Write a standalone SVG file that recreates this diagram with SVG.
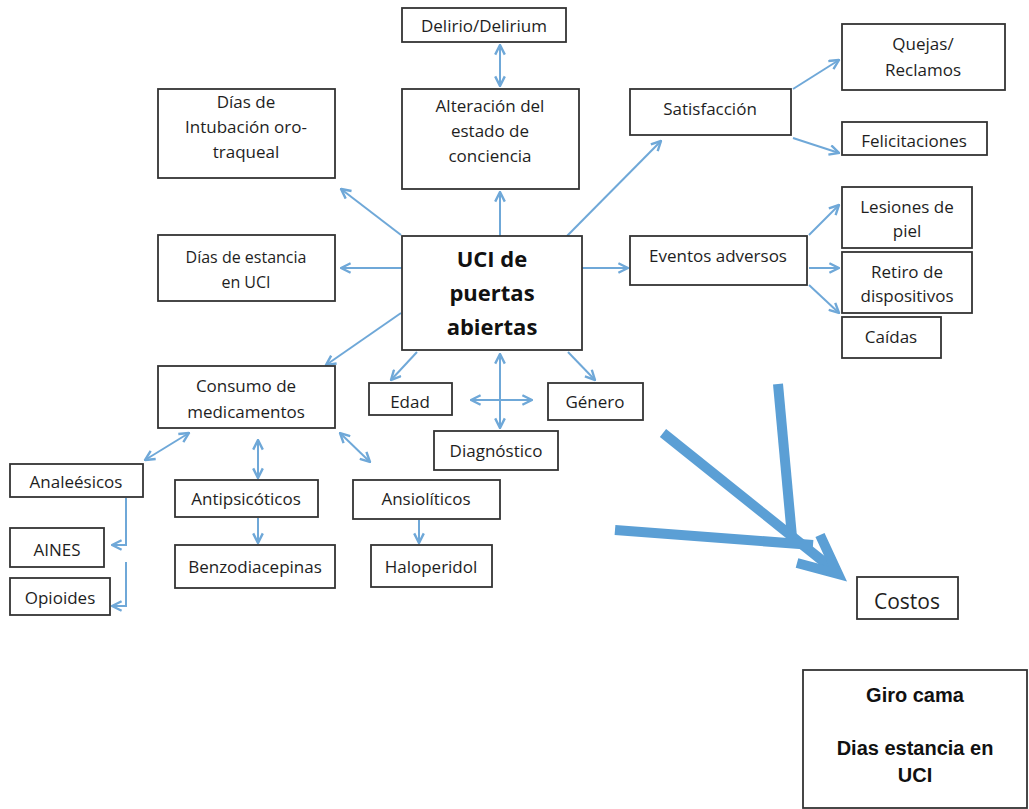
<svg xmlns="http://www.w3.org/2000/svg" width="1029" height="809" viewBox="0 0 1029 809">
<defs>
<style>
.box{fill:#fff;stroke:#333;stroke-width:1.8}
.t{font-family:"Open Sans","Liberation Sans",sans-serif;font-size:17px;fill:#1e1e1e;text-anchor:middle}
.tb{font-family:"Open Sans","Liberation Sans",sans-serif;font-size:22px;font-weight:bold;fill:#111;text-anchor:middle}
.ta{font-family:"Liberation Sans",Arial,sans-serif;font-size:20px;font-weight:bold;fill:#111;text-anchor:middle}
.c{fill:none;stroke:#6fa8d8;stroke-width:2}
.big{fill:none;stroke:#5b9fd5;stroke-width:10;stroke-linecap:butt}
</style>
<marker id="ah" viewBox="0 0 10 10" refX="9" refY="5" markerWidth="12" markerHeight="12" markerUnits="userSpaceOnUse" orient="auto-start-reverse">
<path d="M1,1 L9,5 L1,9" fill="none" stroke="#6fa8d8" stroke-width="2"/>
</marker>
</defs>
<rect width="1029" height="809" fill="#fff"/>

<g id="connectors">
<line class="c" x1="500" y1="45" x2="500" y2="86" marker-start="url(#ah)" marker-end="url(#ah)"/>
<line class="c" x1="500" y1="236" x2="500" y2="192" marker-end="url(#ah)"/>
<line class="c" x1="401" y1="235" x2="341" y2="189" marker-end="url(#ah)"/>
<line class="c" x1="402" y1="268" x2="341" y2="268" marker-end="url(#ah)"/>
<line class="c" x1="401" y1="313" x2="326" y2="365" marker-end="url(#ah)"/>
<line class="c" x1="567" y1="236" x2="661" y2="141" marker-end="url(#ah)"/>
<line class="c" x1="582" y1="268" x2="628" y2="268" marker-end="url(#ah)"/>
<line class="c" x1="793" y1="89" x2="839" y2="60" marker-end="url(#ah)"/>
<line class="c" x1="793" y1="138" x2="839" y2="153" marker-end="url(#ah)"/>
<line class="c" x1="809" y1="235" x2="839" y2="205" marker-end="url(#ah)"/>
<line class="c" x1="809" y1="268" x2="839" y2="268" marker-end="url(#ah)"/>
<line class="c" x1="809" y1="285" x2="839" y2="313" marker-end="url(#ah)"/>
<line class="c" x1="417" y1="352" x2="391" y2="380" marker-end="url(#ah)"/>
<line class="c" x1="568" y1="352" x2="595" y2="380" marker-end="url(#ah)"/>
<line class="c" x1="500" y1="354" x2="500" y2="428" marker-start="url(#ah)" marker-end="url(#ah)"/>
<line class="c" x1="471" y1="400" x2="532" y2="400" marker-start="url(#ah)" marker-end="url(#ah)"/>
<line class="c" x1="189" y1="433" x2="145" y2="460" marker-start="url(#ah)" marker-end="url(#ah)"/>
<line class="c" x1="258" y1="440" x2="258" y2="478" marker-start="url(#ah)" marker-end="url(#ah)"/>
<line class="c" x1="340" y1="433" x2="370" y2="462" marker-start="url(#ah)" marker-end="url(#ah)"/>
<line class="c" x1="258" y1="518" x2="258" y2="543" marker-end="url(#ah)"/>
<line class="c" x1="419" y1="520" x2="419" y2="543" marker-end="url(#ah)"/>
<path class="c" d="M126,498 V545 H112" marker-end="url(#ah)"/>
<path class="c" d="M126,562 V606 H112" marker-end="url(#ah)"/>
<g id="big-arrows">
<line class="big" x1="778" y1="384" x2="792" y2="537"/>
<line class="big" x1="663" y1="433" x2="834" y2="570"/>
<line class="big" x1="615" y1="530" x2="813" y2="545"/>
<polyline class="big" points="820,535 838,574 797,563" stroke-linecap="round" stroke-linejoin="miter"/>
</g>
</g>

<g id="n-delirio"><rect class="box" x="402" y="8" width="164" height="34"/><text class="t" x="484" y="32">Delirio/Delirium</text></g>
<g id="n-alteracion"><rect class="box" x="402" y="89" width="177" height="100"/><text class="t" x="490" y="112">Alteración del</text><text class="t" x="490" y="137">estado de</text><text class="t" x="490" y="162">conciencia</text></g>
<g id="n-intubacion"><rect class="box" x="158" y="89" width="177" height="89"/><text class="t" x="246" y="108">Días de</text><text class="t" x="246" y="133">Intubación oro-</text><text class="t" x="246" y="158">traqueal</text></g>
<g id="n-estancia"><rect class="box" x="158" y="235" width="177" height="66"/><text class="t" x="246" y="263" style="font-size:16px">Días de estancia</text><text class="t" x="246" y="288" style="font-size:16px">en UCI</text></g>
<g id="n-uci"><rect class="box" x="402" y="236" width="180" height="114"/><text class="tb" x="492" y="267">UCI de</text><text class="tb" x="492" y="301">puertas</text><text class="tb" x="492" y="335">abiertas</text></g>
<g id="n-consumo"><rect class="box" x="158" y="366" width="177" height="62"/><text class="t" x="246" y="392">Consumo de</text><text class="t" x="246" y="418">medicamentos</text></g>
<g id="n-edad"><rect class="box" x="369" y="383" width="83" height="32"/><text class="t" x="410" y="408">Edad</text></g>
<g id="n-genero"><rect class="box" x="548" y="383" width="95" height="37"/><text class="t" x="595" y="408">Género</text></g>
<g id="n-diagnostico"><rect class="box" x="434" y="431" width="124" height="39"/><text class="t" x="496" y="457">Diagnóstico</text></g>
<g id="n-satisfaccion"><rect class="box" x="630" y="89" width="161" height="46"/><text class="t" x="710" y="115">Satisfacción</text></g>
<g id="n-quejas"><rect class="box" x="842" y="24" width="163" height="66"/><text class="t" x="923" y="50">Quejas/</text><text class="t" x="923" y="76">Reclamos</text></g>
<g id="n-felicitaciones"><rect class="box" x="842" y="122" width="145" height="33"/><text class="t" x="914" y="147">Felicitaciones</text></g>
<g id="n-eventos"><rect class="box" x="630" y="236" width="177" height="49"/><text class="t" x="718" y="262">Eventos adversos</text></g>
<g id="n-lesiones"><rect class="box" x="842" y="187" width="130" height="61"/><text class="t" x="907" y="213">Lesiones de</text><text class="t" x="907" y="237">piel</text></g>
<g id="n-retiro"><rect class="box" x="842" y="252" width="130" height="61"/><text class="t" x="907" y="278">Retiro de</text><text class="t" x="907" y="302">dispositivos</text></g>
<g id="n-caidas"><rect class="box" x="842" y="317" width="99" height="41"/><text class="t" x="891" y="343">Caídas</text></g>
<g id="n-analgesicos"><rect class="box" x="10" y="464" width="133" height="33"/><text class="t" x="76" y="488">Analeésicos</text></g>
<g id="n-aines"><rect class="box" x="10" y="528" width="94" height="39"/><text class="t" x="57" y="556">AINES</text></g>
<g id="n-opioides"><rect class="box" x="10" y="578" width="100" height="37"/><text class="t" x="60" y="604">Opioides</text></g>
<g id="n-antipsicoticos"><rect class="box" x="175" y="480" width="143" height="37"/><text class="t" x="246" y="505">Antipsicóticos</text></g>
<g id="n-benzo"><rect class="box" x="175" y="545" width="160" height="43"/><text class="t" x="255" y="573">Benzodiacepinas</text></g>
<g id="n-ansioliticos"><rect class="box" x="353" y="480" width="147" height="39"/><text class="t" x="426" y="505">Ansiolíticos</text></g>
<g id="n-haloperidol"><rect class="box" x="371" y="545" width="121" height="42"/><text class="t" x="431" y="573">Haloperidol</text></g>
<g id="n-costos"><rect class="box" x="857" y="577" width="101" height="42"/><text class="t" x="907" y="609" style="font-size:21px">Costos</text></g>
<g id="n-giro"><rect class="box" x="803" y="670" width="224" height="138"/><text class="ta" x="915" y="702">Giro cama</text><text class="ta" x="915" y="755">Dias estancia en</text><text class="ta" x="915" y="782">UCI</text></g>
</svg>
